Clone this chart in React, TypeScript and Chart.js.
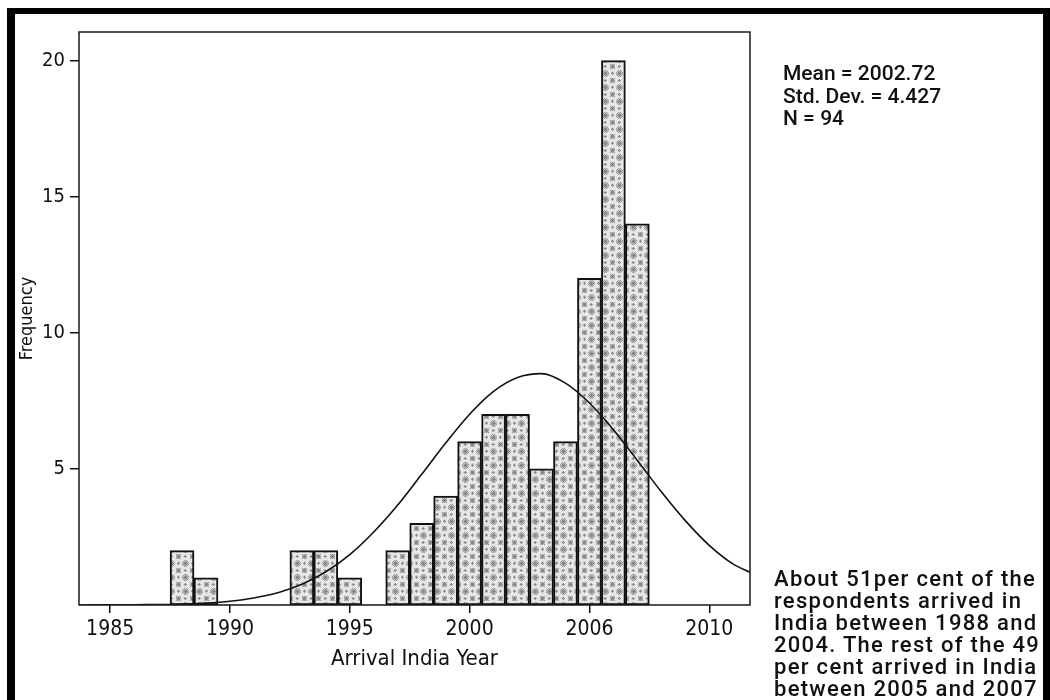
import React, { useEffect, useRef } from "react";
import { Chart, registerables } from "chart.js";

Chart.register(...registerables);

// Histogram bins (one year each)
const years = [1988, 1989, 1990, 1991, 1992, 1993, 1994, 1995, 1996, 1997, 1998, 1999, 2000, 2001, 2002, 2003, 2004, 2005, 2006, 2007];
const frequencies = [2, 1, 0, 0, 0, 2, 2, 1, 0, 2, 3, 4, 6, 7, 7, 5, 6, 12, 20, 14];

// Normal curve
const curveYears = [1983.7, 1986, 1988, 1989, 1990, 1991, 1992, 1993, 1994, 1995, 1996, 1997, 1998, 1999, 2000, 2001, 2002, 2003, 2004, 2005, 2006, 2007, 2008, 2009, 2010, 2011, 2011.7];
const curveValues = [0.0, 0.01, 0.03, 0.07, 0.14, 0.26, 0.45, 0.76, 1.22, 1.85, 2.68, 3.67, 4.8, 5.95, 7.01, 7.85, 8.36, 8.5, 8.15, 7.42, 6.44, 5.31, 4.16, 3.1, 2.19, 1.5, 1.2];

// Axis ticks
const xTickValues = [1985, 1990, 1995, 2000, 2005, 2010];
const xTickLabels = ["1985", "1990", "1995", "2000", "2006", "2010"];
const yTickValues = [5, 10, 15, 20];

const statsLines = ["Mean = 2002.72", "Std. Dev. = 4.427", "N = 94"];
const noteLines = [
  "About 51per cent of the",
  "respondents arrived in",
  "India between 1988 and",
  "2004. The rest of the 49",
  "per cent arrived in India",
  "between 2005 and 2007",
];

const COND = '"DejaVu Sans Condensed", "Liberation Sans Narrow", sans-serif';

function makePattern(): CanvasPattern | string {
  const size = 14;
  const c = document.createElement("canvas");
  c.width = size;
  c.height = size;
  const g = c.getContext("2d");
  if (!g) return "#cccccc";
  g.fillStyle = "#e6e6e6";
  g.fillRect(0, 0, size, size);
  const blobs = [
    [3.5, 3.5, 3.2],
    [10.5, 10.5, 3.0],
    [10.5, 3.0, 1.8],
    [3.0, 10.5, 1.8],
  ];
  for (let i = 0; i < size; i++) {
    for (let j = 0; j < size; j++) {
      for (const [bx, by, r] of blobs) {
        const dx = i + 0.5 - bx;
        const dy = j + 0.5 - by;
        const d2 = dx * dx + dy * dy;
        if (d2 < r * r) {
          g.fillStyle = d2 < (r * r) / 3 ? "#8a8a8a" : (i + j) % 2 === 0 ? "#9a9a9a" : "#c4c4c4";
          g.fillRect(i, j, 1, 1);
        }
      }
    }
  }
  const p = g.createPattern(c, "repeat");
  return p || "#cccccc";
}

const boxPlugin = {
  id: "plotBox",
  afterDatasetsDraw(chart: any) {
    const { ctx, chartArea } = chart;
    ctx.save();
    ctx.strokeStyle = "#1a1a1a";
    ctx.lineWidth = 1.5;
    ctx.strokeRect(chartArea.left, chartArea.top, chartArea.right - chartArea.left, chartArea.bottom - chartArea.top);
    ctx.restore();
  },
};

export default function App() {
  const ref = useRef<HTMLCanvasElement | null>(null);

  useEffect(() => {
    if (!ref.current) return;
    const pattern = makePattern();
    const chart = new Chart(ref.current, {
      type: "bar",
      data: {
        datasets: [
          {
            type: "line",
            data: curveYears.map((x, i) => ({ x, y: curveValues[i] })),
            borderColor: "#111",
            borderWidth: 1.6,
            pointRadius: 0,
            fill: false,
            cubicInterpolationMode: "monotone",
            order: 0,
          } as any,
          {
            type: "bar",
            data: years.map((x, i) => ({ x, y: frequencies[i] })),
            backgroundColor: pattern as any,
            borderColor: "#111",
            borderWidth: (c: any) => (c.raw && c.raw.y === 0 ? 0 : 2),
            borderSkipped: false,
            barPercentage: 1,
            categoryPercentage: 1,
            order: 1,
          } as any,
        ],
      },
      options: {
        responsive: false,
        maintainAspectRatio: false,
        animation: false,
        devicePixelRatio: 1,
        layout: { padding: { left: 0, top: 32, right: 300, bottom: 28 } },
        plugins: { legend: { display: false }, tooltip: { enabled: false } },
        scales: {
          x: {
            type: "linear",
            min: 1983.7,
            max: 2011.7,
            offset: false,
            afterFit: (s: any) => {
              s.height = 67;
            },
            afterBuildTicks: (s: any) => {
              s.ticks = xTickValues.map((v) => ({ value: v }));
            },
            ticks: {
              autoSkip: false,
              maxRotation: 0,
              padding: 4,
              color: "#111",
              font: { family: COND, size: 21 },
              callback: (v: any) => {
                const i = xTickValues.indexOf(Number(v));
                return i >= 0 ? xTickLabels[i] : "";
              },
            },
            grid: { display: true, offset: false, drawOnChartArea: false, drawTicks: true, tickLength: 8, color: "#111", lineWidth: 1.5 },
            border: { display: false },
            title: {
              display: true,
              text: "Arrival India Year",
              color: "#111",
              font: { family: COND, size: 22, lineHeight: 1.2 },
              padding: { top: 0, bottom: 0 },
            },
          },
          y: {
            type: "linear",
            min: 0,
            max: 21.05,
            afterFit: (s: any) => {
              s.width = 79;
            },
            afterBuildTicks: (s: any) => {
              s.ticks = yTickValues.map((v) => ({ value: v }));
            },
            ticks: {
              padding: 5,
              color: "#111",
              font: { family: COND, size: 20 },
            },
            grid: { display: true, drawOnChartArea: false, drawTicks: true, tickLength: 9, color: "#111", lineWidth: 1.5 },
            border: { display: false },
            title: {
              display: true,
              text: "Frequency",
              color: "#111",
              font: { family: COND, size: 18, lineHeight: 1.2 },
              padding: { top: 17, bottom: 0 },
            },
          },
        },
      },
      plugins: [boxPlugin],
    });
    return () => chart.destroy();
  }, []);

  return (
    <div style={{ position: "fixed", left: 0, top: 0, width: 1050, height: 700, background: "#fff", overflow: "hidden" }}>
      <canvas ref={ref} width={1050} height={700} style={{ position: "absolute", left: 0, top: 0, width: 1050, height: 700 }} />
      <div
        style={{
          position: "absolute",
          left: 7,
          top: 8,
          width: 1050 - 7 - 7 - 8,
          height: 760,
          borderLeft: "8px solid #000",
          borderTop: "6px solid #000",
          borderRight: "7px solid #000",
          pointerEvents: "none",
        }}
      />
      <div
        style={{
          position: "absolute",
          left: 783,
          top: 62,
          fontFamily: "Roboto, sans-serif",
          fontWeight: 500,
          fontSize: 21,
          lineHeight: "22.5px",
          color: "#111",
          whiteSpace: "nowrap",
        }}
      >
        {statsLines.map((t) => (
          <div key={t}>{t}</div>
        ))}
      </div>
      <div
        style={{
          position: "absolute",
          left: 774,
          top: 568,
          fontFamily: "Roboto, sans-serif",
          fontWeight: 500,
          fontSize: 22,
          letterSpacing: "1.3px",
          lineHeight: "22px",
          color: "#111",
          whiteSpace: "nowrap",
        }}
      >
        {noteLines.map((t) => (
          <div key={t}>{t}</div>
        ))}
      </div>
    </div>
  );
}
